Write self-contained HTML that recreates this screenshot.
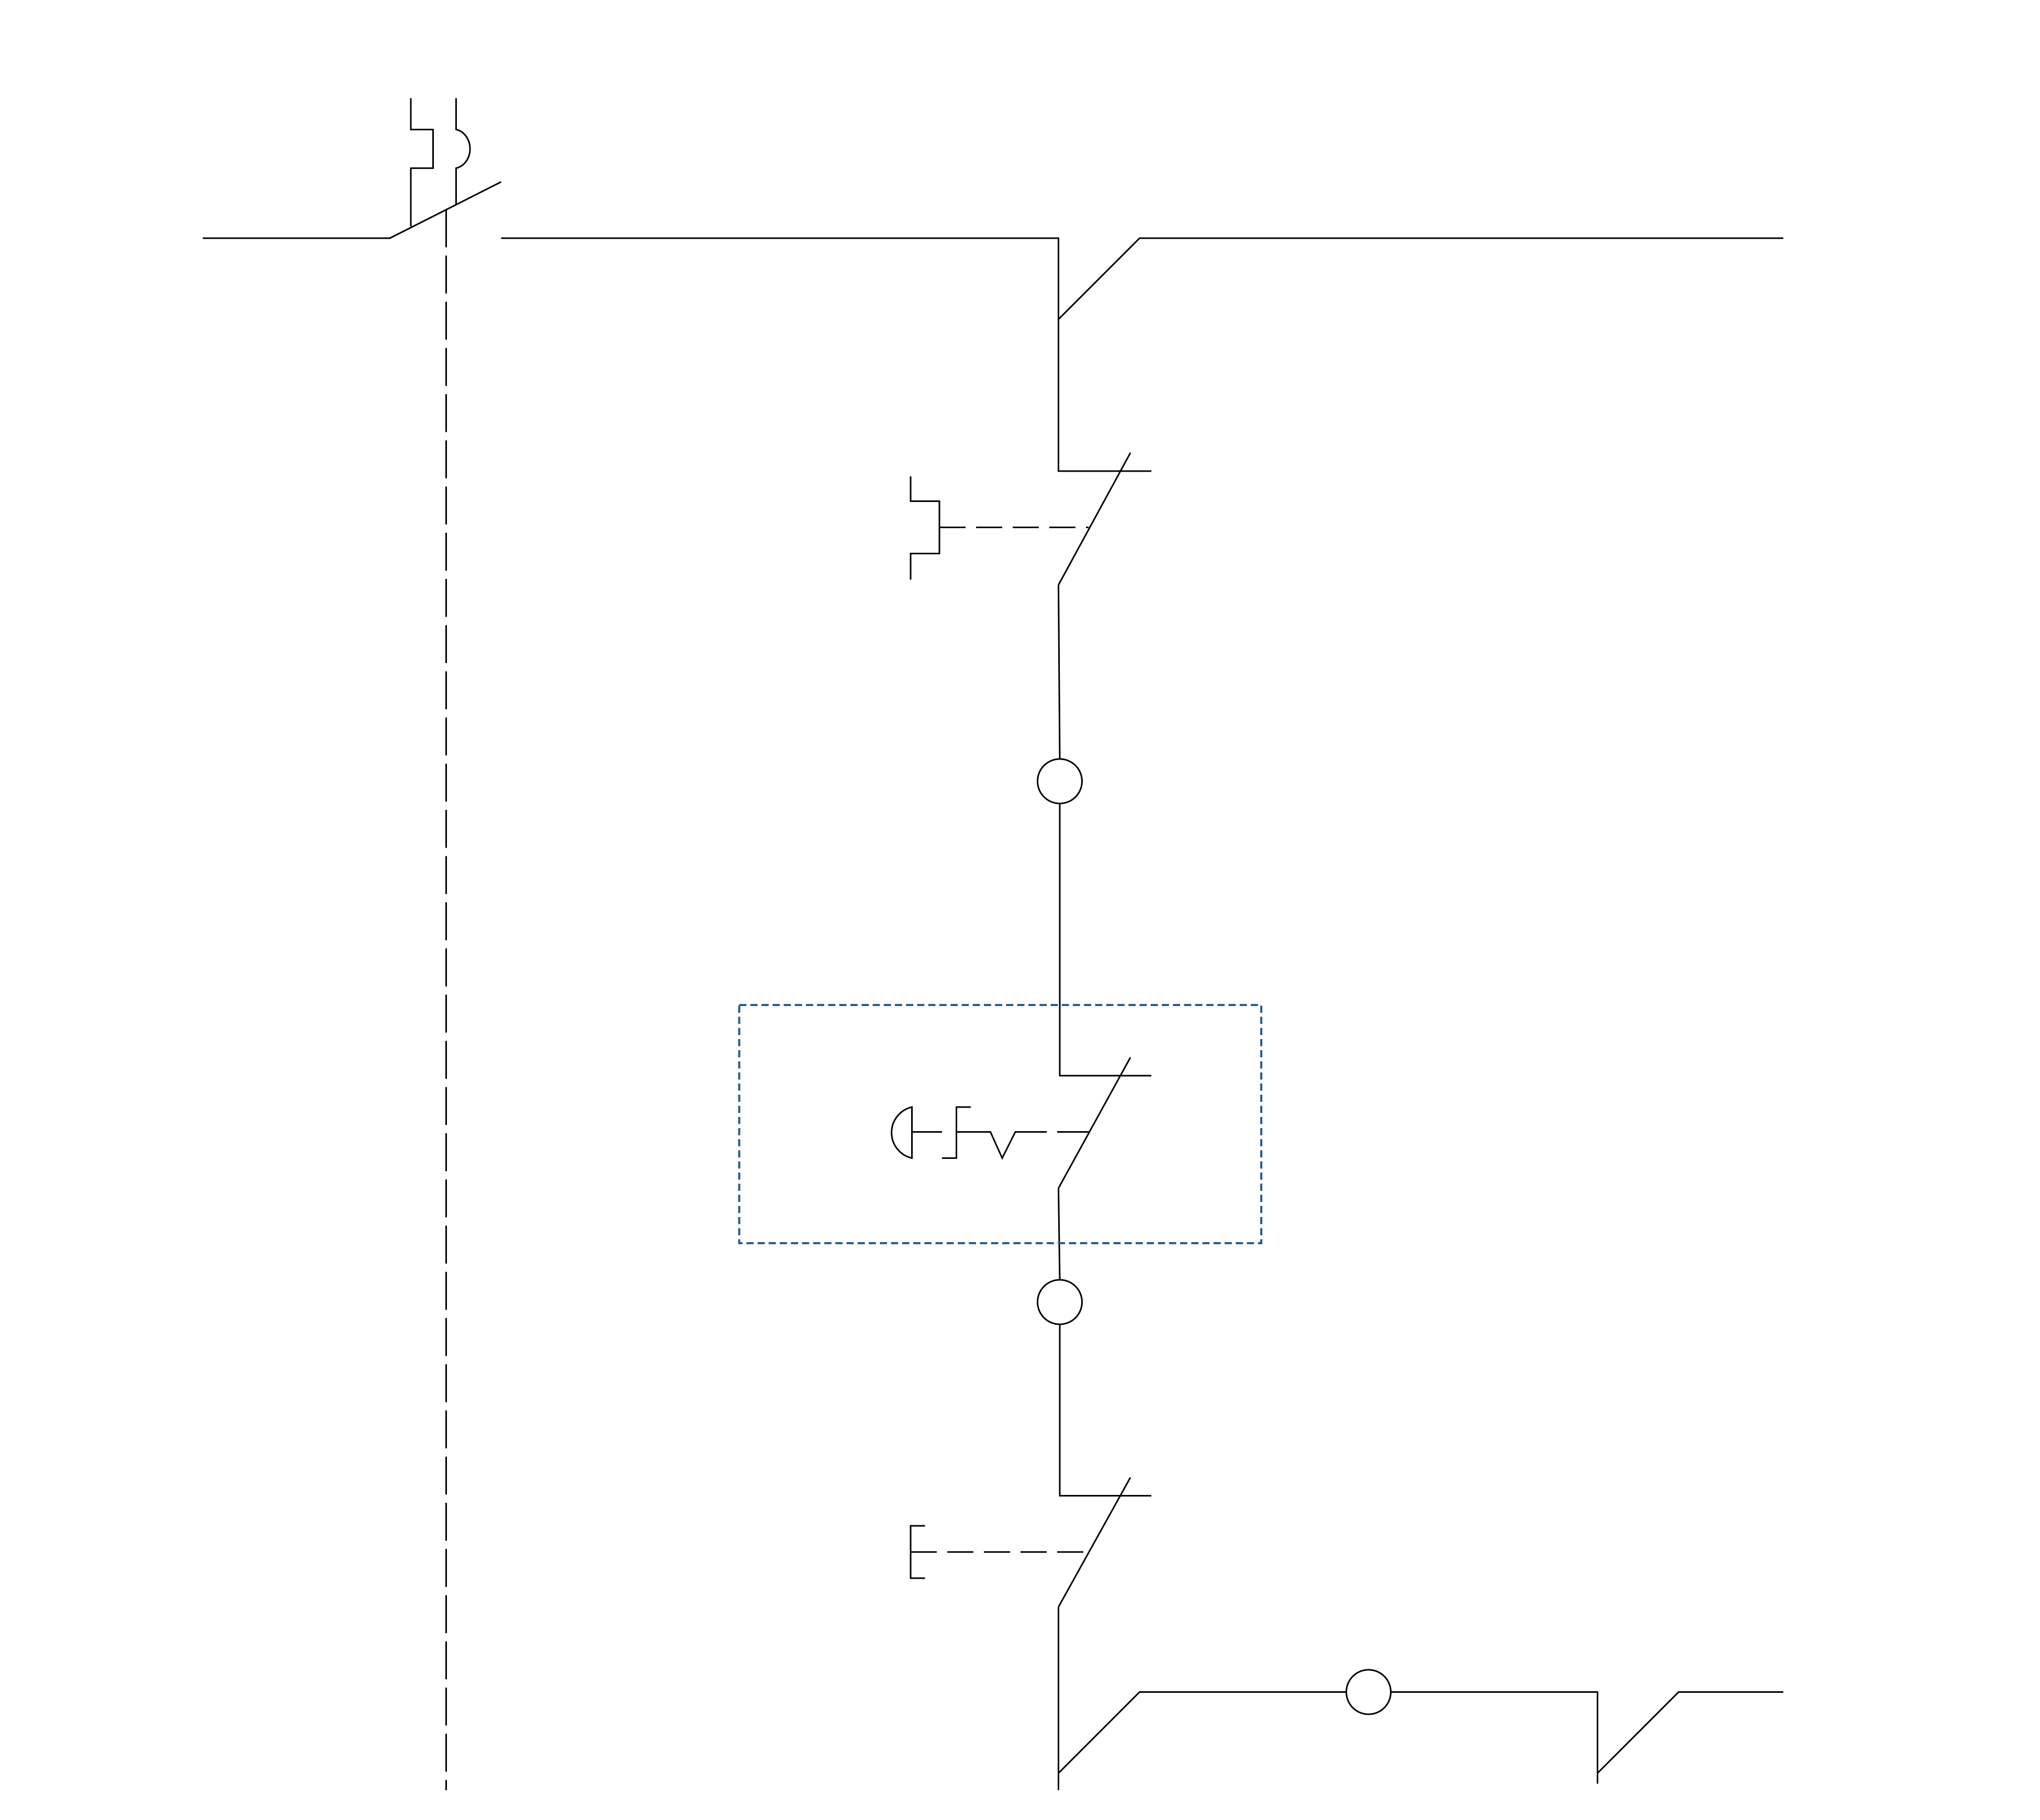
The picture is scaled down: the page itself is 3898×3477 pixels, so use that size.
<!DOCTYPE html>
<html><head><meta charset="utf-8"><style>html,body{margin:0;padding:0;background:#fff}svg{display:block}</style></head>
<body>
<svg width="3898" height="3477" viewBox="0 0 1559.2 1390.8" xmlns="http://www.w3.org/2000/svg">
<g fill="none" stroke="#000" stroke-width="1.2" stroke-linejoin="miter">
<polyline points="155,182 298,182 383,139"/>
<polyline points="314,75 314,99 331,99 331,128.5 314,128.5 314,173"/>
<path d="M348.6,75 V99 A13,15 0 0 1 348.6,128.5 V156"/>
<line x1="341" y1="160" x2="341" y2="1368" stroke-dasharray="29,6.3"/>
<polyline points="383,182 809,182 809,360 880,360"/>
<polyline points="809,244 871,182 1363,182"/>
<line x1="864" y1="346" x2="809" y2="447"/>
<polyline points="809,447 810,580"/>
<polyline points="696,364 696,383 718,383 718,423 696,423 696,443"/>
<line x1="718" y1="403" x2="832" y2="403" stroke-dasharray="20,8"/>
<circle cx="810" cy="597" r="17"/>
<polyline points="810,614 810,822 880,822"/>
<line x1="864" y1="808" x2="809" y2="908"/>
<polyline points="809,908 810,978"/>
<path d="M697,846 A20,20 0 0 0 697,885 Z"/>
<line x1="697" y1="865" x2="720" y2="865"/>
<polyline points="742,846 731,846 731,885 720,885"/>
<polyline points="731,865 757,865 766,885 776,865 800,865"/>
<line x1="808" y1="865" x2="833" y2="865"/>
<circle cx="810" cy="995" r="17"/>
<polyline points="810,1012 810,1143 880,1143"/>
<line x1="864" y1="1129" x2="809" y2="1228"/>
<polyline points="809,1228 809,1368"/>
<polyline points="707,1166 696,1166 696,1206 707,1206"/>
<line x1="696" y1="1186" x2="832" y2="1186" stroke-dasharray="20,8"/>
<polyline points="809,1355 871,1293 1029,1293"/>
<circle cx="1046" cy="1293" r="17"/>
<polyline points="1063,1293 1221,1293 1221,1363"/>
<polyline points="1221,1355 1283,1293 1363,1293"/>
</g>
<rect x="565" y="768" width="399" height="182" fill="none" stroke="#275a90" stroke-width="1.6" stroke-dasharray="5.5,3"/>
</svg>
</body></html>
